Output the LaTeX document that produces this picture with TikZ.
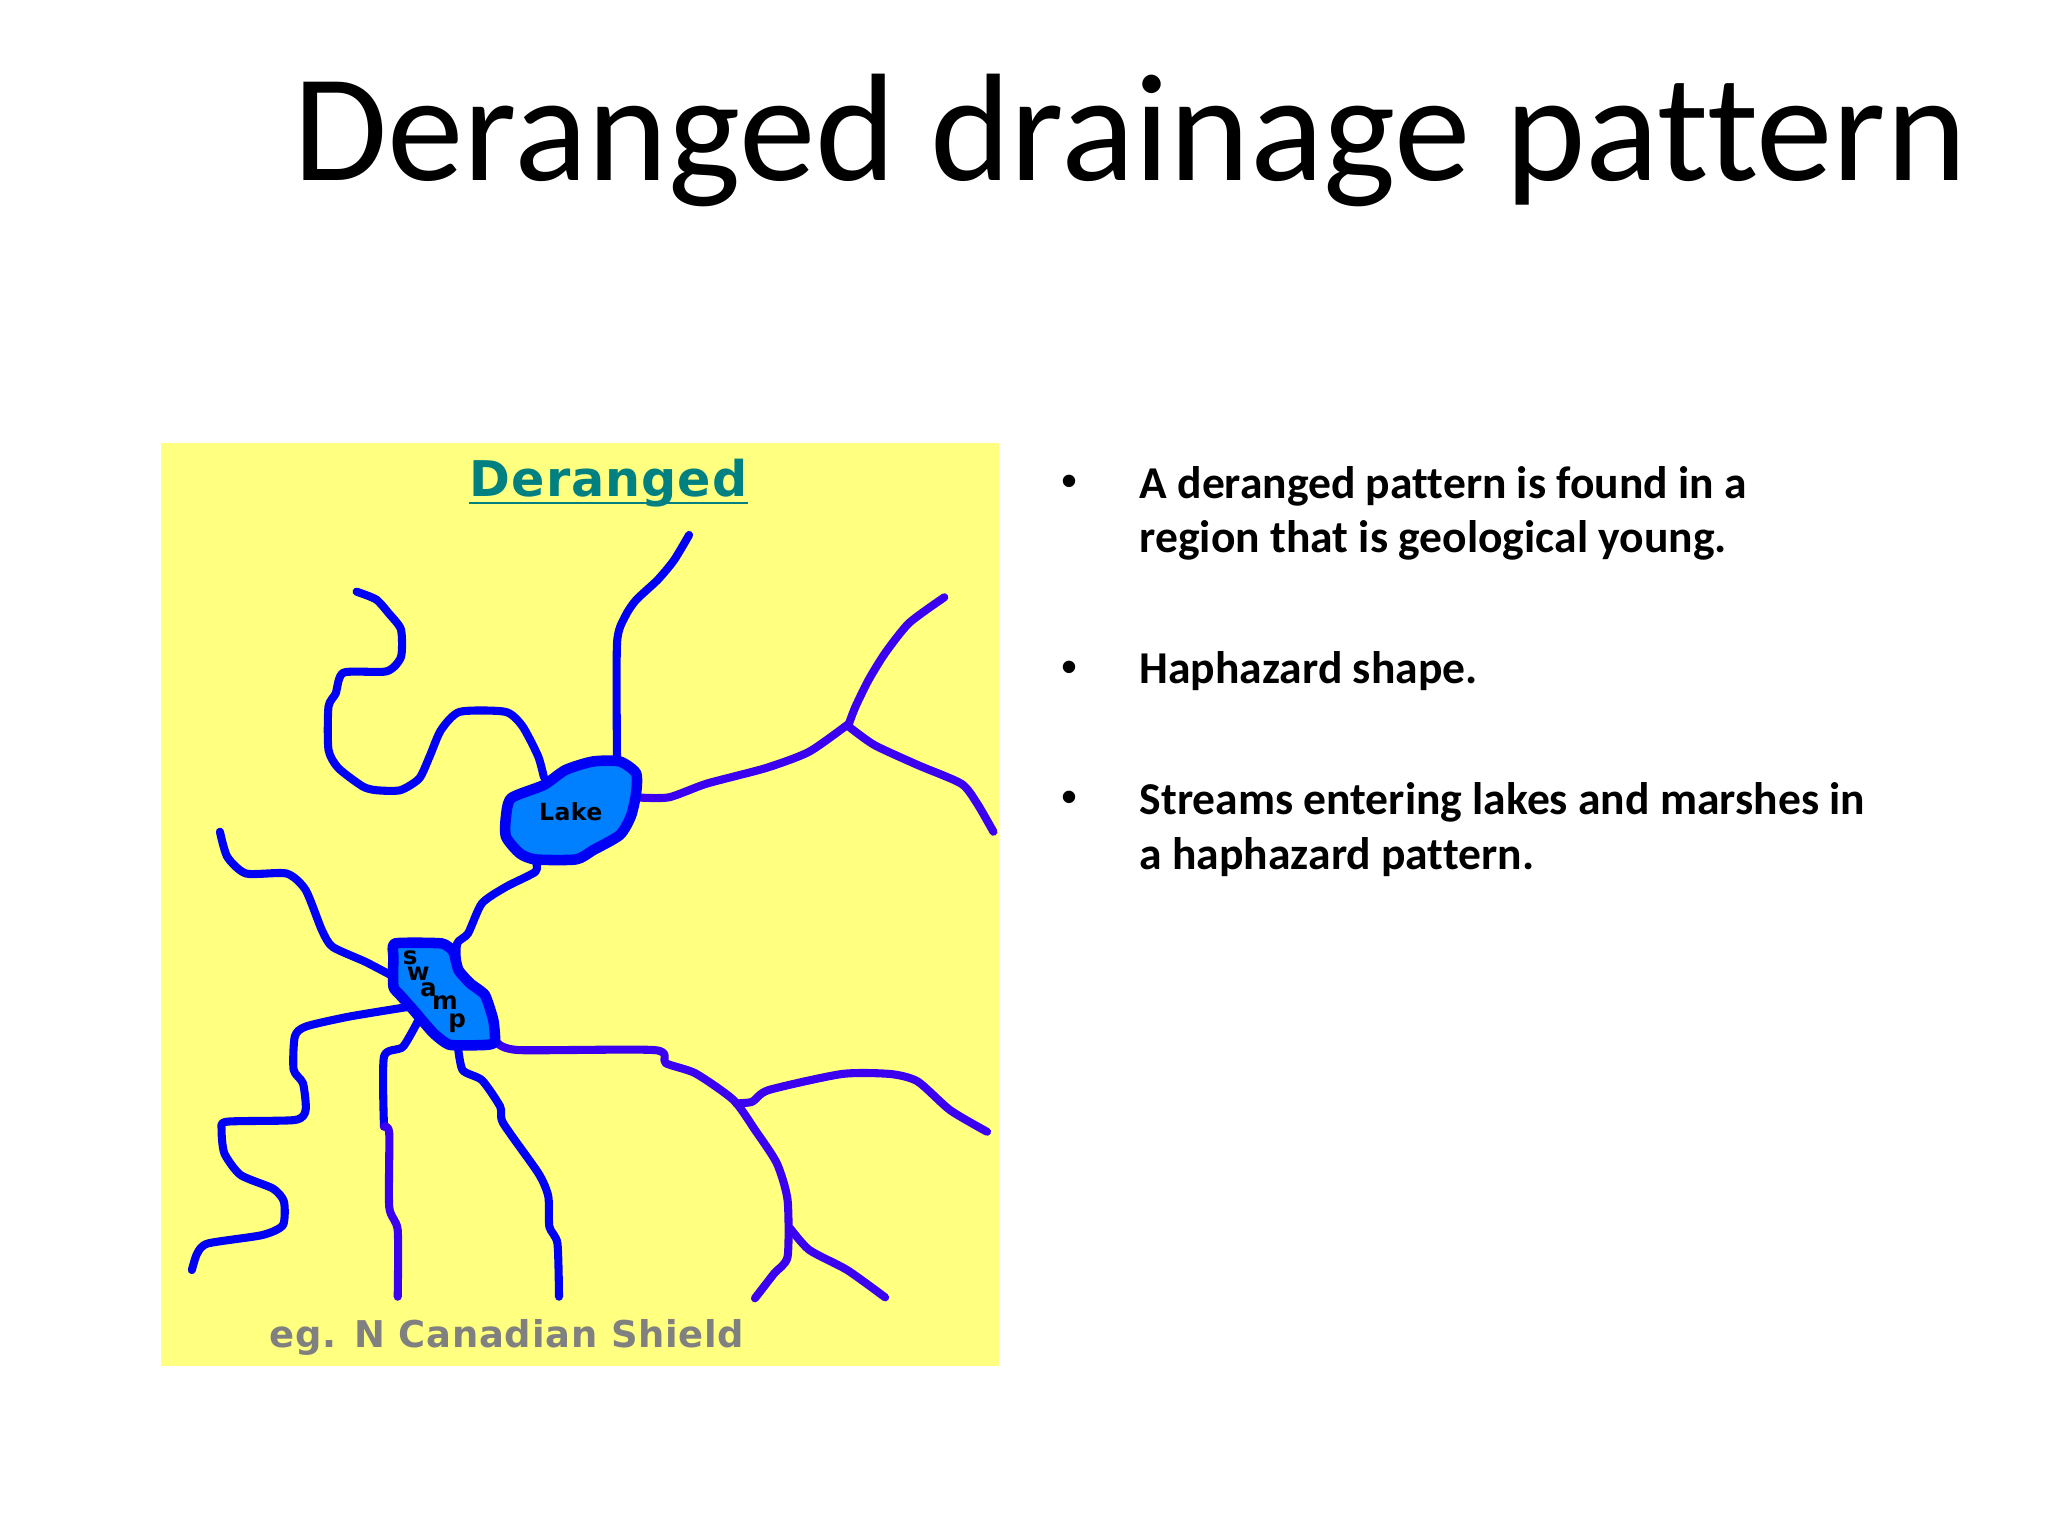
\documentclass[tikz,border=0pt]{standalone}
\usepackage{fontspec}
\setmainfont[Ligatures=CommonOff]{Carlito}
\newfontfamily\mapfont[LetterSpace=2]{DejaVu Sans}
\newfontfamily\dotfont{Liberation Sans}
\definecolor{mapyellow}{HTML}{FFFF80}
\definecolor{lakeblue}{HTML}{0080FF}
\definecolor{riverblue}{HTML}{0000F5}
\definecolor{riverviolet}{HTML}{3C00F0}
\definecolor{mapteal}{HTML}{008080}
\tikzset{
	river/.style={riverblue,line width=2.3pt,line cap=round,line join=round},
	riverb/.style={riverviolet,line width=2.3pt,line cap=round,line join=round},
	water/.style={draw=riverblue,fill=lakeblue,line width=3pt,line join=round},
	bodytext/.style={font=\fontsize{12.97}{15.6}\selectfont\bfseries,align=left,anchor=west,inner sep=0pt},
	dot/.style={font=\dotfont\fontsize{13}{15}\selectfont,inner sep=0pt},
	swampletter/.style={font=\mapfont\fontsize{7}{8}\selectfont\bfseries,inner sep=0pt}
}
\begin{document}
\begin{tikzpicture}[x=0.013061cm,y=-0.013061cm]
	\useasboundingbox (0,0) rectangle (1568,1176);
	\node[anchor=base west,inner sep=0pt,font=\fontsize{43.6}{50}\selectfont] (title) at (224,138) {Deranged drainage pattern};
	% map
	\fill[mapyellow] (123,339) rectangle (765,1046);
	\node[anchor=base,inner sep=0pt,text=mapteal,font=\mapfont\fontsize{14}{16}\selectfont\bfseries] (maptitle) at (466,380) {Deranged};
	\coordinate (ulstart) at (359,385);
	\coordinate (ulend) at (573,385);
	\draw[mapteal,line width=0.7pt] (ulstart)--(ulend);
	\node[anchor=base,inner sep=0pt,text=gray,font=\mapfont\fontsize{10.5}{12}\selectfont\bfseries] (shield) at (388,1032) {eg. N Canadian Shield};
	% streams into the lake
	\draw[river] plot[smooth,tension=0.4] coordinates {(273,453)(288,459)(298,470)(307,482)(307,503)(296,514)(263,515)(257,531)(251.5,541)(251.5,574)(259,588)(277.5,602)(288,605)(306.5,605)(321,596)(329,579)(337.6,559)(352,545)(387,545)(400,556)(412,579)(416.4,595)};
	\draw[river] plot[smooth,tension=0.4] coordinates {(472.4,582)(472.4,492.5)(478.6,472)(487,459.4)(503.5,444)(516,429)(527.6,409.6)};
	\draw[riverb] plot[smooth,tension=0.4] coordinates {(487,610.5)(512,610.5)(541,600)(586.5,588)(619.6,575.5)(650,554)};
	\draw[riverb] plot[smooth,tension=0.4] coordinates {(650,554)(655,541)(665,520.6)(677.7,500)(696,477)(723,457.3)};
	\draw[riverb] plot[smooth,tension=0.4] coordinates {(650,556.4)(669.4,570.4)(702.6,585.7)(736,600)(748,615)(760.6,636.8)};
	% lake to swamp
	\draw[river] plot[smooth,tension=0.4] coordinates {(410,659)(410,667.4)(387.4,679)(369,691.6)(358.4,714.6)(350,722.3)(350,740)};
	% streams into the swamp
	\draw[river] plot[smooth,tension=0.4] coordinates {(168.4,636.8)(174,656)(188.4,668.8)(219.5,668.8)(234,681.4)(246.4,712)(254.7,725)(279.6,736.3)(300,747)};
	\draw[river] plot[smooth,tension=0.4] coordinates {(312,771)(267,778.4)(234,786)(225.7,793.7)(224.8,819)(232,829.5)(234,850)(225.7,857.5)(173.8,858.8)(169.7,865)(171.8,883)(184.2,899.6)(209,910)(217.4,920)(216.6,938)(200.8,945.6)(159.3,952)(151,959.6)(146.9,972.4)};
	\draw[river] plot[smooth,tension=0.4] coordinates {(322,778)(308.6,801.4)(294,809)(294,862.6)};
	\draw[riverb] plot[smooth,tension=0.4] coordinates {(294,862.6)(298,867.7)(298,924)(304.5,941.7)(304.5,992.8)};
	\draw[river] plot[smooth,tension=0.4] coordinates {(350,796)(354,819)(369,827)(383,847.3)(385.3,860)(412.3,898.4)(419.8,916)(420.6,939.2)(426.8,952)(428,992.8)};
	\draw[riverb] plot[smooth,tension=0.4] coordinates {(381.2,798.8)(397.8,804)(501.4,804)(509.7,814)(532.5,821.8)(561.6,842.2)(578,865)(594.8,890.7)(603,918.8)(603,962.2)(592.7,975)(578,994)};
	\draw[riverb] plot[smooth,tension=0.4] coordinates {(563.7,844.8)(576,843.5)(588.5,834.6)(644.5,822.3)(681.8,822.3)(702.6,828)(727.5,850)(755.7,866.5)};
	\draw[riverb] plot[smooth,tension=0.4] coordinates {(605,940.5)(619.6,957)(648.7,972.4)(677.7,993.3)};
	% lake and swamp
	\draw[water] plot[smooth cycle,tension=0.4] coordinates {(474.5,583)(454,583)(433,589.5)(416.4,601)(391.5,611)(387.4,625)(387.4,640.6)(398,653.4)(410,658)(441,658)(454,651)(474.5,639.3)(483,625)(487,607.5)(487,592)};
	\node[inner sep=0pt,font=\mapfont\fontsize{6.7}{8}\selectfont\bfseries] (lake) at (437,621.5) {Lake};
	\draw[water] plot[smooth cycle,tension=0.3] coordinates {(301.2,732.5)(302.4,722.3)(338.2,722.3)(347,728.6)(351,742.7)(360,752.9)(371.3,761.8)(377.7,781)(379,797.5)(372.6,800)(344.5,800)(331.8,791)(316.5,773.3)(306.3,761.8)(301.2,755.4)};
	\node[swampletter] (s1) at (314,733) {s};
	\node[swampletter] (s2) at (320.3,745.7) {w};
	\node[swampletter] (s3) at (328,757.5) {a};
	\node[swampletter] (s4) at (340.7,768) {m};
	\node[swampletter] (s5) at (350,783.5) {p};
	% bullets
	\node[dot] (b1) at (819,372) {•};
	\node[dot] (b2) at (819,514) {•};
	\node[dot] (b3) at (819,614) {•};
	\node[bodytext] (t1) at (872,393) {A deranged pattern is found in a\\region that is geological young.};
	\node[bodytext] (t2) at (872,514) {Haphazard shape.};
	\node[bodytext] (t3) at (872,635) {Streams entering lakes and marshes in\\a haphazard pattern.};
\end{tikzpicture}
\end{document}
